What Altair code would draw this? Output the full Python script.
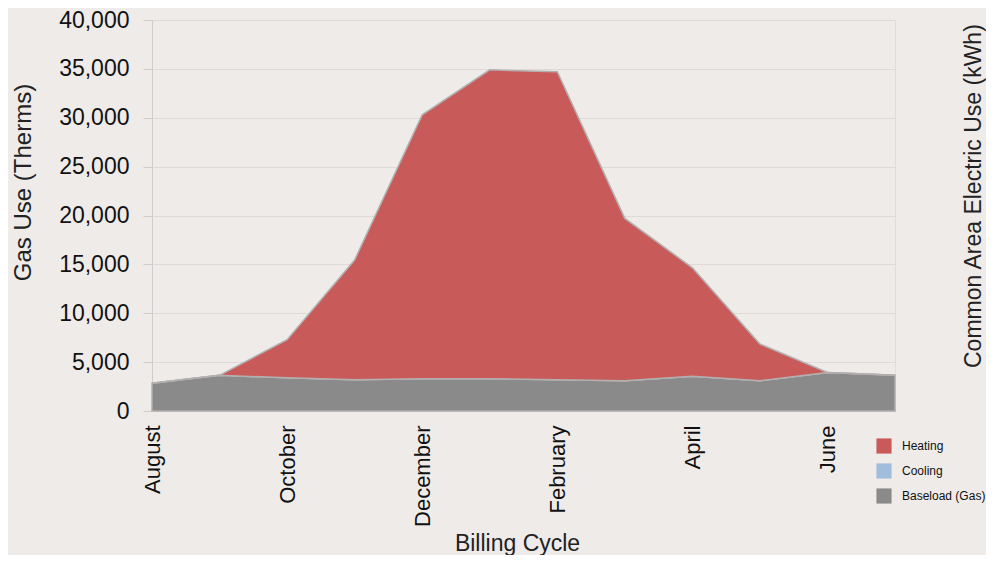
import altair as alt
import pandas as pd

months = ["August", "September", "October", "November", "December", "January",
          "February", "March", "April", "May", "June", "July"]
baseload = [2850, 3650, 3400, 3200, 3300, 3300, 3200, 3100, 3550, 3100, 3950, 3650]
cooling = [0, 0, 0, 0, 0, 0, 0, 0, 0, 0, 0, 0]
heating = [0, 0, 3900, 12250, 27000, 31600, 31500, 16600, 11100, 3750, 0, 0]
series = ["Heating", "Cooling", "Baseload (Gas)"]
colors = ["#C85B5A", "#A0BEDC", "#8A8A8A"]
tick_months = ["August", "October", "December", "February", "April", "June"]
y_ticks = [0, 5000, 10000, 15000, 20000, 25000, 30000, 35000, 40000]

rows = []
for name, vals, order in [("Baseload (Gas)", baseload, 0), ("Cooling", cooling, 1), ("Heating", heating, 2)]:
    for m, v in zip(months, vals):
        rows.append({"month": m, "series": name, "value": v, "ord": order})
df = pd.DataFrame(rows)

FONT = "Liberation Sans"

area = alt.Chart(df).mark_area(
    stroke="#B3AFAF", strokeWidth=1.5, opacity=1
).encode(
    x=alt.X("month:O", sort=months,
            scale=alt.Scale(type="point", padding=0),
            axis=alt.Axis(values=tick_months, labelAngle=-90, labelFontSize=22,
                          labelColor="#111", labelPadding=14, ticks=False,
                          domainColor="#D6D2D0", title="Billing Cycle",
                          titleFontSize=23, titleFontWeight="normal", titleColor="#222",
                          titleX=365, titleY=139, titleBaseline="alphabetic",
                          titleAlign="center", grid=False)),
    y=alt.Y("value:Q", stack="zero",
            scale=alt.Scale(domain=[0, 40000], nice=False),
            axis=alt.Axis(values=y_ticks, format=",.0f", labelFontSize=23, labelColor="#111",
                          tickSize=9, tickColor="#D0CCCA", labelPadding=14,
                          domainColor="#D0CCCA", gridColor="#DEDAD8",
                          title="Gas Use (Therms)", titleFontSize=24,
                          titleFontWeight="normal", titleColor="#222",
                          titleX=-122, titleY=162, titleAlign="center",
                          titleBaseline="alphabetic")),
    color=alt.Color("series:N", scale=alt.Scale(domain=series, range=colors),
                    legend=alt.Legend(title=None, orient="none", legendX=724, legendY=418,
                                      symbolType="square", symbolSize=230,
                                      symbolStrokeWidth=0, symbolOpacity=1,
                                      labelFontSize=12, labelColor="#111",
                                      rowPadding=9, padding=0, labelOffset=10)),
    order=alt.Order("ord:Q", sort="ascending"),
)

right_title = alt.Chart(pd.DataFrame({"t": ["Common Area Electric Use (kWh)"]})).mark_text(
    angle=270, align="left", baseline="alphabetic", fontSize=23, color="#222", font=FONT
).encode(
    text="t:N",
    x=alt.value(829),
    y=alt.value(348),
)

chart = alt.layer(area, right_title).properties(
    width=743, height=391,
    autosize=alt.AutoSizeParams(type="none"),
    padding={"left": 144, "top": 12, "right": 91, "bottom": 144},
    background="#EEEBE9",
).configure_view(stroke=None).configure(font=FONT)

chart.save("out.html", embed_options={"renderer": "svg", "actions": False})
